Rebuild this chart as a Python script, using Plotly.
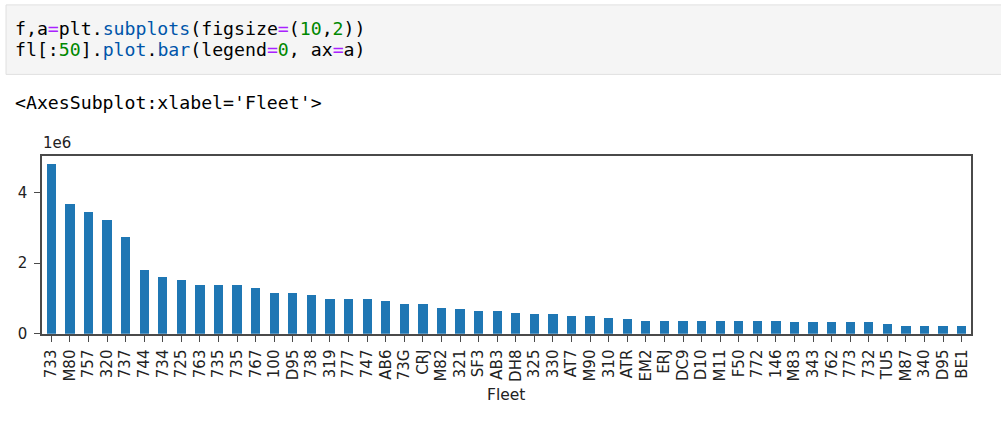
import plotly.graph_objects as go

# ---- data ----
fleet = ["733", "M80", "757", "320", "737", "744", "734", "725", "763", "735",
         "735", "767", "100", "D95", "738", "319", "777", "747", "AB6", "73G",
         "CRJ", "M82", "321", "SF3", "AB3", "DH8", "325", "330", "AT7", "M90",
         "310", "ATR", "EM2", "ERJ", "DC9", "D10", "M11", "F50", "772", "146",
         "M83", "343", "762", "773", "732", "TU5", "M87", "340", "D95", "BE1"]
values = [4.80e6, 3.68e6, 3.45e6, 3.22e6, 2.75e6, 1.82e6, 1.63e6, 1.54e6, 1.40e6, 1.40e6,
          1.40e6, 1.31e6, 1.17e6, 1.17e6, 1.12e6, 0.99e6, 0.99e6, 0.99e6, 0.93e6, 0.84e6,
          0.84e6, 0.75e6, 0.70e6, 0.65e6, 0.65e6, 0.61e6, 0.56e6, 0.56e6, 0.51e6, 0.51e6,
          0.47e6, 0.42e6, 0.37e6, 0.37e6, 0.37e6, 0.37e6, 0.37e6, 0.37e6, 0.37e6, 0.37e6,
          0.33e6, 0.33e6, 0.33e6, 0.33e6, 0.33e6, 0.28e6, 0.23e6, 0.23e6, 0.23e6, 0.23e6]
y_ticks = [0, 2e6, 4e6]
y_tick_labels = ["0", "2", "4"]

W, H = 1001, 426
positions = list(range(len(fleet)))

def px(x):
    return x / W

def py(y):
    return 1 - y / H

fig = go.Figure()
fig.add_trace(go.Bar(x=positions, y=values, width=0.5,
                     marker=dict(color="#1f77b4", line=dict(width=0)),
                     hoverinfo="x+y"))

axis_line = "#4a4a4a"
tick_font = dict(family="DejaVu Sans", size=15, color="#222222")

fig.update_layout(
    autosize=True,
    margin=dict(l=0, r=0, t=0, b=0),
    paper_bgcolor="white", plot_bgcolor="white",
    showlegend=False,
    bargap=0,
    xaxis=dict(domain=[px(42), px(971)], range=[-0.5, len(fleet) - 0.5],
               tickmode="array", tickvals=positions, ticktext=fleet,
               tickangle=-90, ticks="outside", ticklen=6, tickwidth=1.2,
               tickcolor=axis_line, showline=True, linecolor=axis_line,
               linewidth=1.5, mirror=True, showgrid=False, zeroline=False,
               tickfont=tick_font, ticklabelstandoff=2),
    yaxis=dict(domain=[py(341), py(159)], range=[0, 5.04e6],
               tickmode="array", tickvals=y_ticks, ticktext=y_tick_labels,
               ticks="outside", ticklen=6, tickwidth=1.2, tickcolor=axis_line,
               showline=True, linecolor=axis_line, linewidth=1.5, mirror=True,
               showgrid=False, zeroline=False, tickfont=tick_font,
               ticklabelstandoff=4),
)

# Notebook code cell background
fig.add_shape(type="rect", xref="paper", yref="paper",
              x0=px(6), x1=px(1010), y0=py(76), y1=py(5),
              fillcolor="#f5f5f5", line=dict(color="#e0e0e0", width=1), layer="below")

mono = "DejaVu Sans Mono"
op = "#aa22ff"; prop = "#0055aa"; num = "#008800"

def c(t, col):
    return f"<span style='color:{col}'>{t}</span>"

line1 = ("f,a" + c("=", op) + "plt." + c("subplots", prop) + "(figsize" + c("=", op)
         + "(" + c("10", num) + "," + c("2", num) + "))")
line2 = ("fl[:" + c("50", num) + "]." + c("plot", prop) + "." + c("bar", prop)
         + "(legend" + c("=", op) + c("0", num) + ", ax" + c("=", op) + "a)")
out_line = "&lt;AxesSubplot:xlabel='Fleet'&gt;"

for text, ypix in [(line1, 29), (line2, 51), (out_line, 105)]:
    fig.add_annotation(text=text, xref="paper", yref="paper", x=px(13), y=py(ypix),
                       xanchor="left", yanchor="middle", showarrow=False,
                       font=dict(family=mono, size=18.2, color="#000000"))

# Offset text and axis label
fig.add_annotation(text="1e6", xref="paper", yref="paper", x=px(41), y=py(157),
                   xanchor="left", yanchor="bottom", showarrow=False,
                   font=dict(family="DejaVu Sans", size=15, color="#222222"))
fig.add_annotation(text="Fleet", xref="paper", yref="paper", x=px(506), y=py(404),
                   xanchor="center", yanchor="middle", showarrow=False,
                   font=dict(family="DejaVu Sans", size=15.5, color="#222222"))

page_js = ("var s=document.createElement('style');"
           "s.textContent='html,body{margin:0!important;padding:0!important;"
           "overflow:hidden!important;}';"
           "document.head.appendChild(s);")

fig.write_html("out.html", config={"displayModeBar": False, "responsive": True},
               default_width="100vw", default_height="100vh", post_script=page_js)
